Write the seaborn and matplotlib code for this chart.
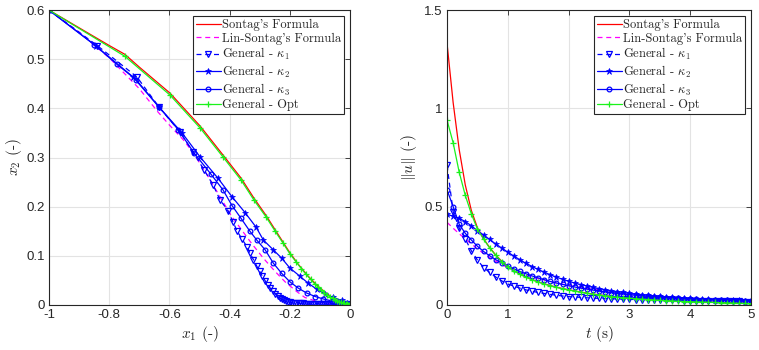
import numpy as np
import seaborn as sns
import matplotlib.pyplot as plt

# ---- phase plane data (x1, x2) ----
sontag_x1 = [-1, -0.9, -0.8, -0.748, -0.7, -0.598, -0.498, -0.422, -0.362, -0.319, -0.279, -0.249,
             -0.223, -0.2, -0.17, -0.14, -0.11, -0.08, -0.05, -0.03, -0.01, 0]
sontag_x2 = [0.6, 0.564, 0.528, 0.51, 0.484, 0.431, 0.364, 0.305, 0.258, 0.217, 0.182, 0.153,
             0.128, 0.106, 0.081, 0.059, 0.04, 0.024, 0.011, 0.005, 0.001, 0]

lin_x1 = [-1, -0.9, -0.8, -0.7, -0.64, -0.6, -0.554, -0.52, -0.471, -0.432, -0.393, -0.327,
          -0.288, -0.249, -0.216, -0.177, -0.15, -0.1, -0.05, 0]
lin_x2 = [0.6, 0.555, 0.503, 0.44, 0.394, 0.366, 0.336, 0.309, 0.261, 0.22, 0.18, 0.125,
          0.095, 0.068, 0.047, 0.027, 0.015, 0.005, 0.001, 0]

k1_x1 = [-1, -0.84, -0.708, -0.635, -0.565, -0.522, -0.485, -0.455, -0.432, -0.405, -0.389,
         -0.375, -0.359, -0.342, -0.332, -0.321, -0.31, -0.3, -0.291, -0.282, -0.273, -0.265,
         -0.257, -0.249, -0.241, -0.234, -0.227, -0.22, -0.213, -0.206, -0.199, -0.192, -0.185,
         -0.178, -0.171, -0.164, -0.157, -0.15, -0.143, -0.136, -0.129, -0.122, -0.115, -0.108,
         -0.101, -0.094, -0.087, -0.08, -0.073, -0.066, -0.059, -0.052, -0.045, -0.038, -0.031,
         -0.024, -0.017, -0.01]
k1_x2 = [0.6, 0.528, 0.464, 0.403, 0.352, 0.311, 0.275, 0.244, 0.214, 0.191, 0.169,
         0.15, 0.134, 0.118, 0.105, 0.092, 0.079, 0.068, 0.058, 0.049, 0.041, 0.034,
         0.028, 0.023, 0.018, 0.014, 0.011, 0.009, 0.007, 0.006, 0.005, 0.004, 0.004,
         0.003, 0.003, 0.003, 0.003, 0.002, 0.002, 0.002, 0.002, 0.002, 0.002, 0.002,
         0.002, 0.002, 0.002, 0.002, 0.001, 0.001, 0.001, 0.001, 0.001, 0.001, 0.001,
         0.001, 0.001, 0.001]

k2_x1 = [-1, -0.844, -0.721, -0.635, -0.558, -0.498, -0.439, -0.392, -0.349, -0.312, -0.288,
         -0.255, -0.227, -0.2, -0.166, -0.139, -0.111, -0.083, -0.055, -0.028, -0.01, 0]
k2_x2 = [0.6, 0.527, 0.464, 0.403, 0.35, 0.301, 0.258, 0.22, 0.188, 0.158, 0.132,
         0.112, 0.095, 0.075, 0.058, 0.044, 0.032, 0.022, 0.015, 0.009, 0.004, 0]

k3_x1 = [-1, -0.85, -0.775, -0.71, -0.635, -0.57, -0.518, -0.462, -0.422, -0.392, -0.362,
         -0.334, -0.31, -0.282, -0.255, -0.227, -0.2, -0.172, -0.144, -0.116, -0.089, -0.061,
         -0.035, -0.015, 0]
k3_x2 = [0.6, 0.53, 0.49, 0.458, 0.403, 0.356, 0.309, 0.266, 0.234, 0.202, 0.176,
         0.151, 0.132, 0.112, 0.085, 0.064, 0.047, 0.034, 0.024, 0.017, 0.012, 0.008,
         0.005, 0.002, 0]

opt_x1 = [-1, -0.748, -0.598, -0.498, -0.422, -0.362, -0.319, -0.279, -0.249, -0.223, -0.2,
          -0.18, -0.162, -0.146, -0.131, -0.118, -0.106, -0.095, -0.085, -0.075, -0.066, -0.058,
          -0.05, -0.043, -0.037, -0.031, -0.025, -0.02, -0.015, -0.01, -0.006, -0.003, 0]
opt_x2 = [0.6, 0.506, 0.427, 0.36, 0.301, 0.254, 0.213, 0.179, 0.15, 0.126, 0.104,
          0.088, 0.074, 0.062, 0.052, 0.043, 0.036, 0.03, 0.025, 0.02, 0.016, 0.013,
          0.01, 0.008, 0.006, 0.005, 0.004, 0.003, 0.002, 0.001, 0.0005, 0.0002, 0]

# ---- control effort ||u|| over time (sampled every 0.1 s) ----
t = np.linspace(0, 5, 51)

u_sontag = [1.33, 1.03, 0.79, 0.61, 0.48, 0.392, 0.337, 0.292, 0.254, 0.222, 0.195,
            0.174, 0.157, 0.142, 0.129, 0.117, 0.107, 0.098, 0.09, 0.083, 0.077,
            0.071, 0.065, 0.06, 0.055, 0.051, 0.047, 0.043, 0.04, 0.037, 0.035,
            0.032, 0.03, 0.028, 0.026, 0.024, 0.022, 0.021, 0.019, 0.018, 0.017,
            0.016, 0.015, 0.014, 0.013, 0.012, 0.011, 0.01, 0.009, 0.008, 0.007]
u_lin = [0.42, 0.39, 0.362, 0.335, 0.31, 0.285, 0.262, 0.241, 0.222, 0.205, 0.19,
         0.176, 0.164, 0.153, 0.143, 0.134, 0.126, 0.118, 0.111, 0.105, 0.099,
         0.093, 0.088, 0.083, 0.079, 0.075, 0.071, 0.067, 0.063, 0.06, 0.057,
         0.054, 0.051, 0.048, 0.046, 0.043, 0.041, 0.039, 0.037, 0.035, 0.033,
         0.032, 0.03, 0.029, 0.027, 0.026, 0.025, 0.024, 0.023, 0.022, 0.021]
u_k1 = [0.71, 0.475, 0.39, 0.335, 0.275, 0.228, 0.19, 0.165, 0.142, 0.122, 0.106,
        0.095, 0.085, 0.076, 0.069, 0.063, 0.058, 0.053, 0.049, 0.045, 0.042,
        0.04, 0.038, 0.036, 0.034, 0.033, 0.032, 0.031, 0.03, 0.029, 0.028,
        0.027, 0.027, 0.026, 0.025, 0.025, 0.024, 0.023, 0.023, 0.022, 0.022,
        0.021, 0.021, 0.02, 0.02, 0.019, 0.019, 0.018, 0.018, 0.017, 0.017]
u_k2 = [0.46, 0.452, 0.44, 0.424, 0.402, 0.378, 0.356, 0.333, 0.31, 0.289, 0.268,
        0.248, 0.229, 0.211, 0.195, 0.18, 0.166, 0.153, 0.141, 0.13, 0.12,
        0.111, 0.103, 0.096, 0.089, 0.083, 0.077, 0.072, 0.067, 0.063, 0.059,
        0.055, 0.052, 0.049, 0.046, 0.043, 0.041, 0.039, 0.037, 0.035, 0.033,
        0.031, 0.03, 0.028, 0.027, 0.026, 0.025, 0.024, 0.023, 0.022, 0.021]
u_k3 = [0.585, 0.5, 0.41, 0.364, 0.33, 0.298, 0.272, 0.25, 0.23, 0.213, 0.197,
        0.183, 0.17, 0.158, 0.147, 0.137, 0.128, 0.119, 0.111, 0.104, 0.097,
        0.091, 0.085, 0.08, 0.075, 0.07, 0.066, 0.062, 0.058, 0.055, 0.052,
        0.049, 0.046, 0.043, 0.041, 0.039, 0.037, 0.035, 0.033, 0.031, 0.03,
        0.028, 0.027, 0.026, 0.025, 0.024, 0.023, 0.022, 0.021, 0.02, 0.019]
u_opt = [0.94, 0.825, 0.675, 0.557, 0.463, 0.385, 0.335, 0.29, 0.252, 0.22, 0.193,
         0.172, 0.155, 0.14, 0.127, 0.116, 0.106, 0.097, 0.089, 0.082, 0.076,
         0.07, 0.064, 0.059, 0.054, 0.05, 0.046, 0.042, 0.039, 0.036, 0.034,
         0.031, 0.029, 0.027, 0.025, 0.023, 0.021, 0.02, 0.018, 0.017, 0.016,
         0.015, 0.014, 0.013, 0.012, 0.011, 0.01, 0.009, 0.008, 0.007, 0.006]

labels = ["Sontag's Formula", "Lin-Sontag's Formula", r"General - $\kappa_1$",
          r"General - $\kappa_2$", r"General - $\kappa_3$", "General - Opt"]

sns.set_theme(style="whitegrid")
plt.rcParams['font.family'] = ['Liberation Sans', 'DejaVu Sans']
plt.rcParams['mathtext.fontset'] = 'cm'
plt.rcParams['axes.unicode_minus'] = False

fig = plt.figure(figsize=(7.59, 3.5), dpi=100)
ax1 = fig.add_axes([0.0646, 0.129, 0.3966, 0.842])
ax2 = fig.add_axes([0.589, 0.129, 0.4005, 0.842])

blue = (0, 0, 1)
green = (0.1, 0.95, 0.1)
styles = [
    dict(color=(1, 0, 0), linestyle='-', marker=None),
    dict(color=(1, 0, 1), linestyle=(0, (4, 3)), marker=None),
    dict(color=blue, linestyle=(0, (4, 3)), marker='v', markersize=3.8, markerfacecolor='none',
         markeredgecolor=blue, markeredgewidth=0.9),
    dict(color=blue, linestyle='-', marker='*', markersize=5, markerfacecolor=blue,
         markeredgecolor=blue, markeredgewidth=0.5),
    dict(color=blue, linestyle='-', marker='o', markersize=3.4, markerfacecolor='none',
         markeredgecolor=blue, markeredgewidth=0.9),
    dict(color=green, linestyle='-', marker='+', markersize=4.5, markeredgecolor=green,
         markeredgewidth=0.9),
]

left = [(sontag_x1, sontag_x2), (lin_x1, lin_x2), (k1_x1, k1_x2),
        (k2_x1, k2_x2), (k3_x1, k3_x2), (opt_x1, opt_x2)]
right = [u_sontag, u_lin, u_k1, u_k2, u_k3, u_opt]

for (xs, ys), st, lab in zip(left, styles, labels):
    sns.lineplot(x=xs, y=ys, ax=ax1, sort=False, estimator=None, label=lab, linewidth=0.9, **st)
for us, st, lab in zip(right, styles, labels):
    sns.lineplot(x=t, y=us, ax=ax2, sort=False, estimator=None, label=lab, linewidth=0.9, **st)

lab_font = {'family': 'cmr10', 'size': 11, 'color': '#262626'}

ax1.set_xlim(-1, 0)
ax1.set_ylim(0, 0.6)
ax1.set_xticks([-1, -0.8, -0.6, -0.4, -0.2, 0])
ax1.set_xticklabels(['-1', '-0.8', '-0.6', '-0.4', '-0.2', '0'])
ax1.set_yticks([0, 0.1, 0.2, 0.3, 0.4, 0.5, 0.6])
ax1.set_yticklabels(['0', '0.1', '0.2', '0.3', '0.4', '0.5', '0.6'])
ax1.set_xlabel(r'$x_1$ (-)', fontdict=lab_font, labelpad=2)
ax1.set_ylabel(r'$x_2$ (-)', fontdict=lab_font, labelpad=2)

ax2.set_xlim(0, 5)
ax2.set_ylim(0, 1.5)
ax2.set_xticks([0, 1, 2, 3, 4, 5])
ax2.set_yticks([0, 0.5, 1, 1.5])
ax2.set_yticklabels(['0', '0.5', '1', '1.5'])
ax2.set_xlabel(r'$t$ (s)', fontdict=lab_font, labelpad=2)
ax2.set_ylabel(r'$\|u\|$ (-)', fontdict=lab_font, labelpad=4)

for ax in (ax1, ax2):
    ax.grid(True, color='#e3e3e3', linewidth=0.8)
    ax.set_axisbelow(True)
    for sp in ax.spines.values():
        sp.set_color('#262626')
        sp.set_linewidth(0.8)
        sp.set_visible(True)
    ax.tick_params(direction='in', length=3.5, width=0.6, color='#262626', top=True, right=True,
                   labelsize=9.5, labelcolor='#262626', pad=3)
    leg = ax.legend(loc='upper right', frameon=True, fancybox=False,
                    edgecolor='#262626', framealpha=1, handlelength=2.0, handletextpad=0.1,
                    labelspacing=0.12, borderpad=0.2, borderaxespad=0.5,
                    prop={'family': 'cmr10', 'size': 9})
    leg.get_frame().set_linewidth(0.8)

fig.savefig('out.png', dpi=100)
